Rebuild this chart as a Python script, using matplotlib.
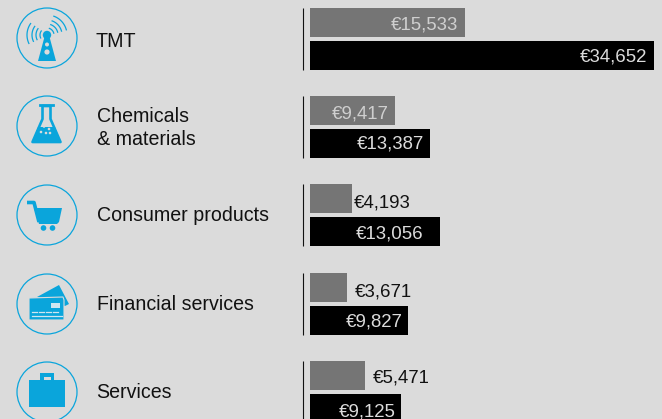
import numpy as np
from matplotlib import pyplot as plt
from matplotlib.patches import Circle, Polygon, Rectangle

plt.rcParams['font.family'] = ['Liberation Sans', 'DejaVu Sans']

categories = ['TMT', 'Chemicals\n& materials', 'Consumer products', 'Financial services', 'Services']
# bar lengths (chemicals is drawn shorter than its label says)
gray_values = [15600, 8560, 4230, 3730, 5540]
black_values = [34652, 12090, 13056, 9827, 9125]
gray_labels = ['€15,533', '€9,417', '€4,193', '€3,671', '€5,471']
black_labels = ['€34,652', '€13,387', '€13,056', '€9,827', '€9,125']

# layout, in reference pixels
row_tops = [8, 96, 184, 273, 361]
gray_base = [29, 118, 207, 296, 382]
black_base = [62, 148, 238, 326, 416]
gray_offsets = [-7, -6, 2, 8, 8]
gray_align = ['right', 'right', 'left', 'left', 'left']
black_offsets = [-7, -6, -16, -5, -5]
label_x = [96, 97, 97, 97, 96]
label_base = [47, 0, 221, 310, 398]

BG = '#dbdbdb'
BLUE = '#0aa5db'
PX = 0.72
W, H = 662, 419
SCALE = 344 / 34652
VAL_SIZE = 13.4
CAT_SIZE = 14.1

fig = plt.figure(figsize=(6.62, 4.19), dpi=100, facecolor=BG)

# icons and text share a pixel axes
pa = fig.add_axes([0, 0, 1, 1])
pa.set_xlim(0, W)
pa.set_ylim(H, 0)
pa.axis('off')

# bars get their own axes, x in euros
ax = fig.add_axes([310 / W, 0, 352 / W, 1])
ax.set_xlim(0, 352 / SCALE)
ax.set_ylim(H, 0)
ax.axis('off')

for i, top in enumerate(row_tops):
    ax.barh(top + 14.5, gray_values[i], height=29, color='#757575')
    ax.barh(top + 47.5, black_values[i], height=29, color='k')
    pa.plot([302.5, 302.5], [top, top + 62], color='#111111', lw=0.8, solid_capstyle='butt')

    gray_col = '#cfcfcf' if gray_align[i] == 'right' else '#111111'
    ax.annotate(gray_labels[i], (gray_values[i], gray_base[i]), xytext=(gray_offsets[i] * PX, 0),
                textcoords='offset points', ha=gray_align[i], va='baseline', fontsize=VAL_SIZE, color=gray_col)
    ax.annotate(black_labels[i], (black_values[i], black_base[i]), xytext=(black_offsets[i] * PX, 0),
                textcoords='offset points', ha='right', va='baseline', fontsize=VAL_SIZE, color='#dcdcdc')

    if i == 1:
        pa.text(label_x[i], 122, 'Chemicals', fontsize=CAT_SIZE, va='baseline', color='#111111')
        pa.text(label_x[i], 145, '& materials', fontsize=CAT_SIZE, va='baseline', color='#111111')
    else:
        pa.text(label_x[i], label_base[i], categories[i], fontsize=CAT_SIZE, va='baseline', color='#111111')

centers = [(47, 38), (47, 126), (47, 215), (47, 304), (47, 392)]
for cx, cy in centers:
    pa.add_patch(Circle((cx, cy), 30, fc='none', ec=BLUE, lw=0.9))

# tower
pa.add_patch(Polygon([(38, 61), (56, 61), (49, 35), (45, 35)], fc=BLUE))
pa.add_patch(Circle((47, 35), 4.2, fc=BLUE))
pa.add_patch(Circle((47, 44.5), 2, fc=BG))
pa.add_patch(Circle((47, 52), 2.6, fc=BG))
for r in [7, 11, 15, 20]:
    t = np.radians(np.linspace(155, 215, 20))
    pa.plot(47 + r * np.cos(t), 35 + r * np.sin(t), color=BLUE, lw=0.9)
    t = np.radians(np.linspace(-70, -15, 20))
    pa.plot(47 + r * np.cos(t), 35 + r * np.sin(t), color=BLUE, lw=0.9)

# flask
pa.add_patch(Polygon([(42.5, 106), (42.5, 119), (32.5, 142), (60.5, 142), (50.5, 119), (50.5, 106)],
                     fc='none', ec=BLUE, lw=1.9, joinstyle='round'))
pa.plot([39.5, 52.5], [105, 105], color=BLUE, lw=2)
pa.add_patch(Polygon([(38, 127), (55, 127), (60, 141), (33, 141)], fc=BLUE))
for px, py in [(44, 126.5), (49, 129), (41, 132), (46, 133), (50, 133)]:
    pa.add_patch(Circle((px, py), 1.3, fc=BG))

# cart
pa.plot([27, 34, 39], [202.5, 202.5, 222], color=BLUE, lw=2.6, solid_capstyle='butt')
pa.add_patch(Polygon([(34, 208), (62, 208), (59, 222), (57, 224), (39, 224)], fc=BLUE))
pa.add_patch(Circle((43.5, 228), 2.8, fc=BLUE))
pa.add_patch(Circle((52.5, 228), 2.8, fc=BLUE))

# card
pa.add_patch(Polygon([(37, 297), (59, 285), (69, 304), (65, 306)], fc=BLUE))
pa.add_patch(Polygon([(29, 298), (63, 297), (64, 300), (64, 320), (29, 320)], fc=BLUE, ec=BG, lw=0.8))
pa.add_patch(Rectangle((50.5, 303), 9, 5, fc='#cfe6f0'))
for xs in [32, 39, 46, 53]:
    pa.plot([xs, xs + 5], [312, 312], color='#cfe6f0', lw=0.9)
pa.plot([32, 62], [316, 316], color='#cfe6f0', lw=0.9)

# briefcase
pa.add_patch(Rectangle((29, 380), 36, 27, fc=BLUE))
pa.add_patch(Rectangle((40, 373), 14, 8, fc=BLUE))
pa.add_patch(Rectangle((43.5, 377), 7, 3, fc=BG))

fig.savefig('out.png', dpi=100, facecolor=BG)
